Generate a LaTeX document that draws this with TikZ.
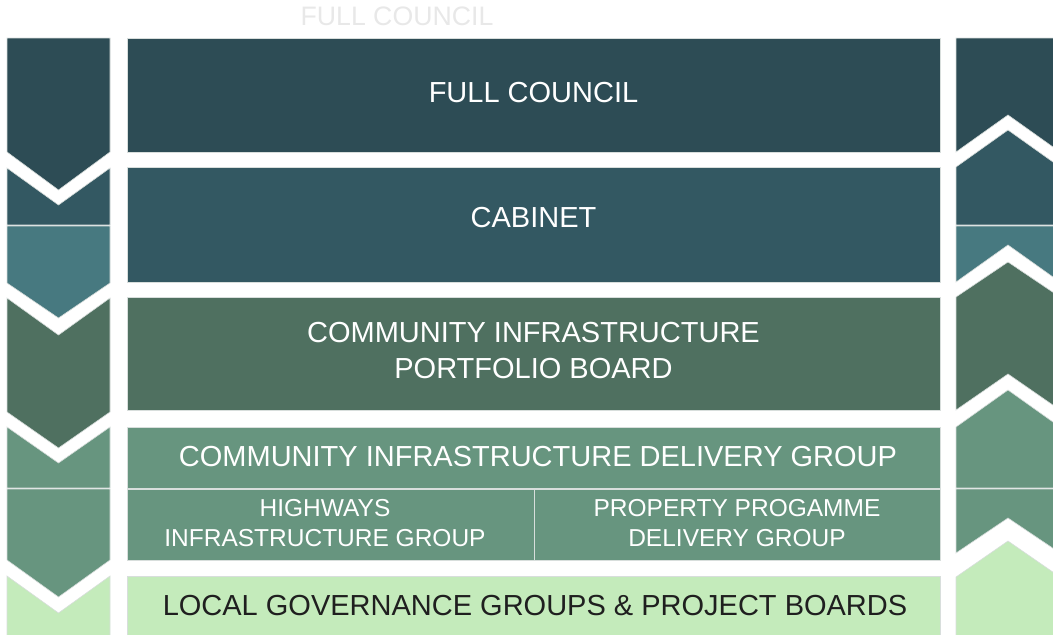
\documentclass[tikz,border=0pt]{standalone}
\usepackage{fontspec}
\setmainfont{Liberation Sans}
\usepackage{tikz}

\definecolor{councilc}{HTML}{2D4C55}
\definecolor{cabinetc}{HTML}{335862}
\definecolor{tealc}{HTML}{477980}
\definecolor{boardc}{HTML}{4F7060}
\definecolor{groupc}{HTML}{67957F}
\definecolor{localc}{HTML}{C4EBBB}
\definecolor{edgec}{HTML}{D8DEDC}

\tikzset{
  band/.style={draw=edgec, line width=0.6pt},
  bigtext/.style={text=white, align=center, font=\fontsize{29}{36}\selectfont},
  smalltext/.style={text=white, align=center, font=\fontsize{24.5}{30}\selectfont}
}

\begin{document}
\begin{tikzpicture}[x=1pt, y=-1pt]
    \useasboundingbox (0,0) rectangle (1053,635);
    \clip (0,0) rectangle (1053,635);

    % ghost title
    \node (title) at (397,16) [text=black!9, font=\fontsize{26.7}{30}\selectfont] {FULL COUNCIL};

    % centre boxes
    \draw[band, fill=councilc] (127,38) rectangle (940,152);
    \draw[band, fill=cabinetc] (127,167) rectangle (940,282);
    \draw[band, fill=boardc] (127,297) rectangle (940,410);
    \draw[band, fill=groupc] (127,427) rectangle (940,488);
    \draw[band, fill=groupc] (127,489) rectangle (534,560);
    \draw[band, fill=groupc] (534,489) rectangle (940,560);
    \draw[band, fill=localc] (127,576) rectangle (940,640);

    \node (full) at (533.5,93) [bigtext] {FULL COUNCIL};
    \node (cabinet) at (533.5,218) [bigtext] {CABINET};
    \node (board) at (533.5,351) [bigtext] {COMMUNITY INFRASTRUCTURE\\PORTFOLIO BOARD};
    \node (delivery) at (538,457) [bigtext] {COMMUNITY INFRASTRUCTURE DELIVERY GROUP};
    \node (highways) at (325,523) [smalltext] {HIGHWAYS\\INFRASTRUCTURE GROUP};
    \node (property) at (737,523) [smalltext] {PROPERTY PROGAMME\\DELIVERY GROUP};
    \node (local) at (535,606) [bigtext, text=black!88] {LOCAL GOVERNANCE GROUPS \& PROJECT BOARDS};

    % left column, pointing down
    \draw[band, fill=councilc] (7,38) -- (110,38) -- (110,152) -- (58.5,190) -- (7,152) -- cycle;
    \draw[band, fill=cabinetc] (7,168) -- (58.5,205) -- (110,168) -- (110,225) -- (7,225) -- cycle;
    \draw[band, fill=tealc] (7,226) -- (110,226) -- (110,283) -- (58.5,318) -- (7,283) -- cycle;
    \draw[band, fill=boardc] (7,298) -- (58.5,335) -- (110,298) -- (110,412) -- (58.5,448) -- (7,412) -- cycle;
    \draw[band, fill=groupc] (7,427) -- (58.5,463) -- (110,427) -- (110,488) -- (7,488) -- cycle;
    \draw[band, fill=groupc] (7,489) -- (110,489) -- (110,560) -- (58.5,597) -- (7,560) -- cycle;
    \draw[band, fill=localc] (7,576) -- (58.5,613) -- (110,576) -- (110,640) -- (7,640) -- cycle;

    % right column, pointing up
    \draw[band, fill=councilc] (956,38) -- (1060,38) -- (1060,152) -- (1008,115) -- (956,152) -- cycle;
    \draw[band, fill=cabinetc] (956,167) -- (1008,130) -- (1060,167) -- (1060,225) -- (956,225) -- cycle;
    \draw[band, fill=tealc] (956,226) -- (1060,226) -- (1060,282) -- (1008,245) -- (956,282) -- cycle;
    \draw[band, fill=boardc] (956,297) -- (1008,262) -- (1060,297) -- (1060,410) -- (1008,374) -- (956,410) -- cycle;
    \draw[band, fill=groupc] (956,427) -- (1008,390) -- (1060,427) -- (1060,488) -- (956,488) -- cycle;
    \draw[band, fill=groupc] (956,489) -- (1060,489) -- (1060,553) -- (1008,518) -- (956,553) -- cycle;
    \draw[band, fill=localc] (956,577) -- (1008,541) -- (1060,577) -- (1060,640) -- (956,640) -- cycle;
\end{tikzpicture}
\end{document}
